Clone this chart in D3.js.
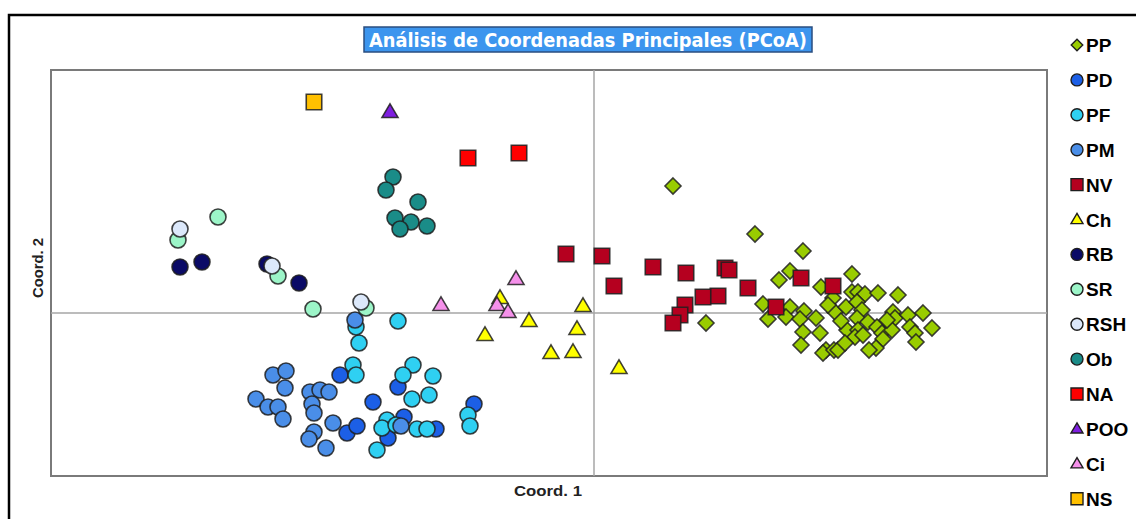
<!DOCTYPE html>
<html>
<head>
<meta charset="utf-8">
<script src="https://cdn.jsdelivr.net/npm/d3@7"></script>
<style>
  html, body { margin: 0; padding: 0; background: #fff; }
  svg { display: block; }
</style>
</head>
<body>
<svg id="chart" width="1136" height="519"></svg>
<script>
// PCoA scores (Coord. 1, Coord. 2) for each group
const PP = [
  [0.079, 0.127], [0.161, 0.079], [0.209, 0.062], [0.112, -0.010], [0.196, 0.042],
  [0.185, 0.033], [0.258, 0.039], [0.227, 0.026], [0.169, 0.009], [0.174, -0.006],
  [0.196, 0.006], [0.192, -0.004], [0.210, 0.002], [0.206, -0.006], [0.222, -0.005],
  [0.209, -0.019], [0.207, -0.032], [0.226, -0.020], [0.232, -0.037], [0.229, -0.040],
  [0.240, -0.037], [0.244, -0.037], [0.239, 0.015], [0.241, 0.001], [0.252, 0.006],
  [0.258, 0.021], [0.264, 0.021], [0.271, 0.019], [0.284, 0.020], [0.304, 0.018],
  [0.263, 0.011], [0.268, 0.003], [0.263, -0.005], [0.274, -0.009], [0.253, -0.017],
  [0.264, -0.017], [0.261, -0.024], [0.283, -0.014], [0.288, -0.020], [0.289, -0.026],
  [0.282, -0.035], [0.275, -0.037], [0.299, 0.001], [0.301, -0.005], [0.314, -0.002],
  [0.329, 0.000], [0.316, -0.014], [0.321, -0.020], [0.338, -0.015], [0.322, -0.029],
  [0.298, -0.017], [0.234, 0.008], [0.269, -0.022], [0.247, -0.008], [0.293, -0.007],
  [0.251, -0.030]
];
const PD = [
  [-0.254, -0.062], [-0.221, -0.089], [-0.247, -0.120], [-0.237, -0.113], [-0.196, -0.074],
  [-0.190, -0.104], [-0.206, -0.125], [-0.120, -0.091], [-0.158, -0.116]
];
const PF = [
  [-0.196, -0.008], [-0.235, -0.030], [-0.238, -0.014], [-0.241, -0.052], [-0.238, -0.062],
  [-0.181, -0.052], [-0.191, -0.062], [-0.161, -0.063], [-0.182, -0.086], [-0.165, -0.082],
  [-0.207, -0.107], [-0.212, -0.115], [-0.217, -0.137], [-0.177, -0.116], [-0.167, -0.116],
  [-0.126, -0.102], [-0.124, -0.113], [-0.198, -0.112]
];
const PM = [
  [-0.239, -0.007], [-0.321, -0.062], [-0.308, -0.058], [-0.309, -0.075], [-0.338, -0.086],
  [-0.326, -0.094], [-0.316, -0.094], [-0.311, -0.106], [-0.284, -0.079], [-0.274, -0.077],
  [-0.265, -0.079], [-0.282, -0.091], [-0.280, -0.100], [-0.280, -0.119], [-0.285, -0.126],
  [-0.268, -0.135], [-0.261, -0.110], [-0.193, -0.113]
];
const NV = [
  [-0.028, 0.059], [0.008, 0.057], [0.059, 0.046], [0.020, 0.027], [0.092, 0.040],
  [0.131, 0.045], [0.135, 0.043], [0.154, 0.025], [0.207, 0.035], [0.239, 0.027],
  [0.182, 0.006], [0.124, 0.017], [0.109, 0.016], [0.091, 0.008], [0.086, -0.002],
  [0.079, -0.010]
];
const Ch = [
  [-0.094, 0.015], [-0.011, 0.007], [-0.065, -0.008], [-0.109, -0.022], [-0.017, -0.016],
  [-0.043, -0.040], [-0.021, -0.039], [0.025, -0.055]
];
const RB = [[-0.414, 0.046], [-0.392, 0.051], [-0.327, 0.049], [-0.295, 0.030]];
const SR = [[-0.416, 0.073], [-0.376, 0.096], [-0.316, 0.037], [-0.281, 0.004], [-0.228, 0.005]];
const RSH = [[-0.414, 0.084], [-0.322, 0.047], [-0.233, 0.011]];
const Ob = [
  [-0.201, 0.136], [-0.208, 0.123], [-0.176, 0.111], [-0.199, 0.095], [-0.183, 0.091],
  [-0.194, 0.084], [-0.167, 0.087]
];
const NA = [[-0.126, 0.155], [-0.075, 0.160]];
const POO = [[-0.204, 0.201]];
const Ci = [[-0.078, 0.034], [-0.153, 0.008], [-0.097, 0.008], [-0.086, 0.001]];
const NS = [[-0.280, 0.211]];

// Series in drawing / legend order
const seriesNames = ["PP", "PD", "PF", "PM", "NV", "Ch", "RB", "SR", "RSH", "Ob", "NA", "POO", "Ci", "NS"];
const seriesData = [PP, PD, PF, PM, NV, Ch, RB, SR, RSH, Ob, NA, POO, Ci, NS];
const seriesShape = ["diamond", "circle", "circle", "circle", "square", "triangle", "circle",
                     "circle", "circle", "circle", "square", "triangle", "triangle", "square"];
const seriesColor = ["#99cc00", "#1c5fe6", "#2fd0f2", "#4a8ee8", "#b5001f", "#ffff00", "#0a0a66",
                     "#9cf5c8", "#dce8fa", "#1a8c88", "#ff0000", "#7f1fe0", "#f590ea", "#ffc000"];

const titleText = "Análisis de Coordenadas Principales (PCoA)";
const xLabel = "Coord. 1";
const yLabel = "Coord. 2";

const svg = d3.select("#chart");
const W = 1136, H = 519;
const plot = { left: 51, top: 70, right: 1047, bottom: 476 };

const x = d3.scaleLinear().domain([-0.543, 0.453]).range([plot.left, plot.right]);
const y = d3.scaleLinear().domain([-0.163, 0.243]).range([plot.bottom, plot.top]);

// outer chart frame
svg.append("rect")
  .attr("x", 9).attr("y", 15).attr("width", W + 20).attr("height", H + 20)
  .attr("fill", "#fff").attr("stroke", "#000").attr("stroke-width", 2.5);

// plot area border
svg.append("rect")
  .attr("x", plot.left).attr("y", plot.top)
  .attr("width", plot.right - plot.left).attr("height", plot.bottom - plot.top)
  .attr("fill", "#fff").attr("stroke", "#7a7a7a").attr("stroke-width", 2);

// zero lines through the origin
svg.append("line")
  .attr("x1", x(0)).attr("x2", x(0)).attr("y1", plot.top).attr("y2", plot.bottom)
  .attr("stroke", "#a6a6a6").attr("stroke-width", 1.5);
svg.append("line")
  .attr("x1", plot.left).attr("x2", plot.right).attr("y1", y(0)).attr("y2", y(0))
  .attr("stroke", "#a6a6a6").attr("stroke-width", 1.5);

// marker shapes
function shapePath(shape, s) {
  switch (shape) {
    case "circle": return d3.symbol(d3.symbolCircle, Math.PI * s * s / 4)();
    case "square": return d3.symbol(d3.symbolSquare, s * s)();
    case "diamond": {
      const h = s / 2;
      return `M0,${-h}L${h},0L0,${h}L${-h},0Z`;
    }
    case "triangle": {
      const h = s * 0.85;
      return `M0,${-h * 0.6}L${s / 2},${h * 0.4}L${-s / 2},${h * 0.4}Z`;
    }
  }
}
const markerSize = { circle: 16, square: 15.5, diamond: 16, triangle: 16 };
const legendSize = { circle: 12, square: 12, diamond: 11.5, triangle: 12 };

const marks = svg.append("g");
seriesData.forEach((data, i) => {
  const shape = seriesShape[i];
  marks.append("g")
    .selectAll("path")
    .data(data)
    .join("path")
    .attr("d", shapePath(shape, markerSize[shape]))
    .attr("transform", d => `translate(${x(d[0])},${y(d[1])})`)
    .attr("fill", seriesColor[i])
    .attr("stroke", "#1e1e1e")
    .attr("stroke-opacity", 0.85)
    .attr("stroke-width", 1.6);
});

// axis titles
svg.append("text")
  .attr("x", 548).attr("y", 496)
  .attr("text-anchor", "middle")
  .attr("font-family", "Liberation Sans, Arial, sans-serif")
  .attr("font-weight", "bold").attr("font-size", 15)
  .attr("fill", "#222")
  .attr("textLength", 68).attr("lengthAdjust", "spacingAndGlyphs")
  .text(xLabel);
svg.append("text")
  .attr("transform", `translate(43,268) rotate(-90)`)
  .attr("text-anchor", "middle")
  .attr("font-family", "Liberation Sans, Arial, sans-serif")
  .attr("font-weight", "bold").attr("font-size", 15)
  .attr("fill", "#222")
  .attr("textLength", 60).attr("lengthAdjust", "spacingAndGlyphs")
  .text(yLabel);

// title box
const tb = { x: 364, y: 27, w: 448, h: 25 };
svg.append("rect")
  .attr("x", tb.x).attr("y", tb.y).attr("width", tb.w).attr("height", tb.h)
  .attr("fill", "#3c95ee").attr("stroke", "#2a4e80").attr("stroke-width", 1.5);
svg.append("text")
  .attr("x", tb.x + tb.w / 2).attr("y", tb.y + 19.5)
  .attr("text-anchor", "middle")
  .attr("font-family", "Liberation Sans Narrow, DejaVu Sans Condensed, Liberation Sans, Arial, sans-serif")
  .attr("font-weight", "bold").attr("font-size", 20)
  .attr("fill", "#fff")
  .attr("textLength", 438).attr("lengthAdjust", "spacingAndGlyphs")
  .text(titleText);

// legend
const legend = svg.append("g");
seriesNames.forEach((name, i) => {
  const cy = 45 + i * 34.9;
  const shape = seriesShape[i];
  legend.append("path")
    .attr("d", shapePath(shape, legendSize[shape]))
    .attr("transform", `translate(1077,${cy})`)
    .attr("fill", seriesColor[i])
    .attr("stroke", "#1e1e1e").attr("stroke-width", 1.4);
  legend.append("text")
    .attr("x", 1086).attr("y", cy + 7)
    .attr("font-family", "Liberation Sans, Arial, sans-serif")
    .attr("font-weight", "bold").attr("font-size", 19)
    .attr("fill", "#000")
    .text(name);
});
</script>
</body>
</html>
